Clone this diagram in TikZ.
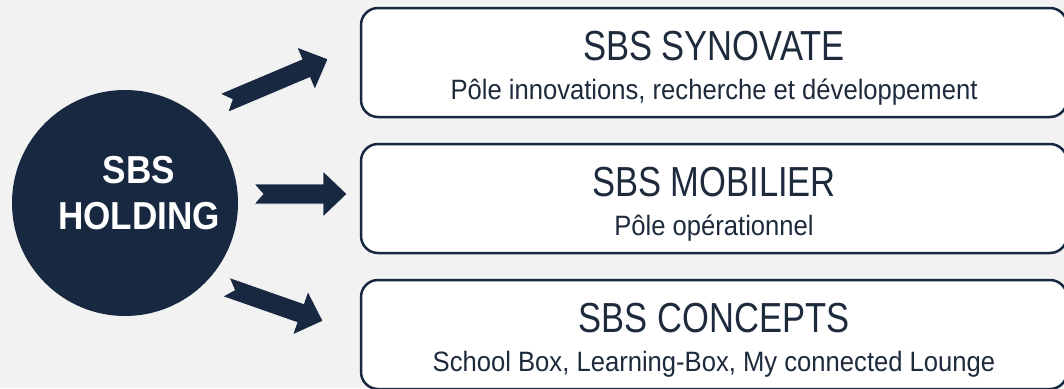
\documentclass[tikz,border=0pt]{standalone}
\usepackage{fontspec}
\setmainfont{Liberation Sans}
\newfontfamily\titlefont[FakeStretch=0.822]{Liberation Sans}
\newfontfamily\subfont[FakeStretch=0.915]{Liberation Sans}
\newfontfamily\holdfont[FakeStretch=0.90]{Liberation Sans Bold}
\usetikzlibrary{calc}
\definecolor{navy}{HTML}{172840}
\definecolor{bgc}{HTML}{F2F2F2}
\definecolor{txt}{HTML}{1E2B3C}
\newcommand\fatarrow[2]{%
  \fill[navy, draw=white, line width=0.6pt]
    let \p1=(#1), \p2=(#2),
        \n1={atan2(\y2-\y1,\x2-\x1)},
        \n2={veclen(\x2-\x1,\y2-\y1)} in
    [shift={(\p1)}, rotate=\n1]
    (0,-10) -- (9,0) -- (0,10) -- (\n2-24,10) -- (\n2-24,23) -- (\n2,0)
    -- (\n2-24,-23) -- (\n2-24,-10) -- cycle;}
\tikzset{
  box/.style={draw=navy, line width=2.5pt, fill=white, rounded corners=17pt,
    minimum width=706pt, minimum height=109pt, inner sep=0pt},
  titletext/.style={anchor=base, inner sep=0pt, text=txt,
    font=\titlefont\fontsize{42}{48}\selectfont},
  subtext/.style={anchor=base, inner sep=0pt, text=txt,
    font=\subfont\fontsize{28}{32}\selectfont},
  holdtext/.style={anchor=base, inner sep=0pt, text=white,
    font=\holdfont\fontsize{39}{44}\selectfont},
  hub/.style={circle, fill=navy, minimum size=226pt, inner sep=0pt}
}
\begin{document}
\begin{tikzpicture}[x=1pt, y=-1pt]
  \fill[bgc] (0,0) rectangle (1064,388);
  \useasboundingbox (0,0) rectangle (1064,388);

  \node[hub] (hold) at (125,203) {};
  \node[holdtext] (holdA) at (139,183) {SBS};
  \node[holdtext] (holdB) at (139,229) {HOLDING};

  \node[box] (syn) at (714,62.5) {};
  \node[box] (mob) at (714,198.5) {};
  \node[box] (con) at (714,334.5) {};

  \node[titletext] (synT) at ($(syn.north)+(0,54)$) {SBS SYNOVATE};
  \node[subtext] (synS) at ($(syn.north)+(0,93)$) {Pôle innovations, recherche et développement};
  \node[titletext] (mobT) at ($(mob.north)+(0,54)$) {SBS MOBILIER};
  \node[subtext] (mobS) at ($(mob.north)+(0,93)$) {Pôle opérationnel};
  \node[titletext] (conT) at ($(con.north)+(0,54)$) {SBS CONCEPTS};
  \node[subtext] (conS) at ($(con.north)+(0,93)$) {School Box, Learning-Box, My connected Lounge};

  \coordinate (a1t) at (224,103);
  \coordinate (a1h) at (328,59);
  \coordinate (a2t) at (254,194);
  \coordinate (a2h) at (347,194);
  \coordinate (a3t) at (226,287);
  \coordinate (a3h) at (323,321);
  \fatarrow{a1t}{a1h}
  \fatarrow{a2t}{a2h}
  \fatarrow{a3t}{a3h}
\end{tikzpicture}
\end{document}
